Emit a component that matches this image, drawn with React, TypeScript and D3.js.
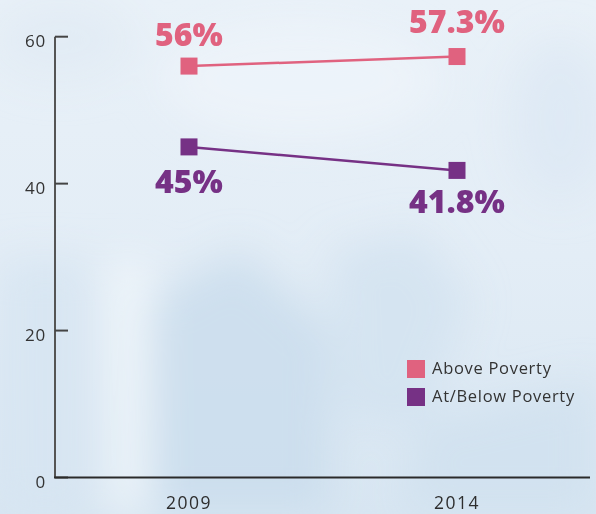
import React from "react";
import * as d3 from "d3";

const years = ["2009", "2014"];
const aboveValues = [56, 57.3];
const belowValues = [45, 41.8];
const aboveLabels = ["56%", "57.3%"];
const belowLabels = ["45%", "41.8%"];
const yTicks = [0, 20, 40, 60];
const seriesNames = ["Above Poverty", "At/Below Poverty"];

const W = 596;
const H = 514;
const PINK = "#e0627f";
const PURPLE = "#763185";
const FONT = "'Open Sans', sans-serif";

export default function App() {
  const x = d3.scalePoint<string>().domain(years).range([55, 591]).padding(0.5);
  const y = d3.scaleLinear().domain([0, 60]).range([477.5, 36.7]);

  const line = d3
    .line<number>()
    .x((_, i) => x(years[i]) as number)
    .y((d) => y(d));

  const series = [
    { name: seriesNames[0], values: aboveValues, labels: aboveLabels, color: PINK, dy: [-20, -24] },
    { name: seriesNames[1], values: belowValues, labels: belowLabels, color: PURPLE, dy: [46, 43] },
  ];

  const m = 17;

  return (
    <div style={{ position: "absolute", left: 0, top: 0, width: W, height: H, overflow: "hidden" }}>
      <svg width={W} height={H} style={{ display: "block" }}>
        <defs>
          <filter id="blur" x="-50%" y="-50%" width="200%" height="200%">
            <feGaussianBlur stdDeviation="20" />
          </filter>
          <linearGradient id="bg" x1="0" y1="0" x2="0" y2="1">
            <stop offset="0" stopColor="#e9f1f8" />
            <stop offset="0.5" stopColor="#e3edf6" />
            <stop offset="1" stopColor="#d8e6f2" />
          </linearGradient>
        </defs>
        <rect width={W} height={H} fill="url(#bg)" />
        <g filter="url(#blur)">
          <polygon points="150,300 240,250 330,330 330,514 140,514" fill="#c9dcec" opacity={0.8} />
          <polygon points="330,250 420,230 470,300 420,430 340,420" fill="#d0e1ef" opacity={0.7} />
          <rect x={110} y={260} width={40} height={254} fill="#f2f7fb" opacity={0.8} />
          <rect x={0} y={260} width={90} height={254} fill="#d6e5f1" opacity={0.8} />
          <polygon points="420,420 596,380 596,514 400,514" fill="#cfe0ee" opacity={0.7} />
          <ellipse cx={560} cy={120} rx={50} ry={80} fill="#dbe7f3" opacity={0.7} />
          <ellipse cx={60} cy={40} rx={70} ry={40} fill="#dfe9f4" opacity={0.7} />
          <ellipse cx={300} cy={80} rx={140} ry={60} fill="#eef4fa" opacity={0.8} />
        </g>

        {/* y axis */}
        <line x1={55} x2={55} y1={y(60)} y2={y(0)} stroke="#555" strokeWidth={2} />
        {yTicks.map((t) => (
          <g key={t}>
            <line x1={55} x2={68} y1={y(t)} y2={y(t)} stroke="#444" strokeWidth={2} />
            <text
              x={46}
              y={y(t) + 10.5}
              textAnchor="end"
              fontFamily={FONT}
              fontSize={17}
              fill="#333"
              letterSpacing={0.8}
            >
              {t}
            </text>
          </g>
        ))}

        {/* x axis */}
        <line x1={54} x2={590} y1={y(0)} y2={y(0)} stroke="#2a2a2a" strokeWidth={2} />
        {years.map((yr) => (
          <text
            key={yr}
            x={x(yr)}
            y={509}
            textAnchor="middle"
            fontFamily={FONT}
            fontSize={17.5}
            fill="#2e2e2e"
            letterSpacing={1.5}
          >
            {yr}
          </text>
        ))}

        {series.map((s) => (
          <g key={s.name}>
            <path d={line(s.values) || ""} fill="none" stroke={s.color} strokeWidth={2.5} />
            {s.values.map((v, i) => (
              <rect
                key={i}
                x={(x(years[i]) as number) - m / 2}
                y={y(v) - m / 2}
                width={m}
                height={m}
                fill={s.color}
              />
            ))}
            {s.values.map((v, i) => (
              <text
                key={"l" + i}
                x={x(years[i])}
                y={y(v) + s.dy[i]}
                textAnchor="middle"
                fontFamily={FONT}
                fontWeight={800}
                fontSize={32}
                fill={s.color}
              >
                {s.labels[i]}
              </text>
            ))}
          </g>
        ))}

        {/* legend */}
        {series.map((s, i) => (
          <g key={"lg" + i} transform={`translate(407, ${360 + i * 28})`}>
            <rect width={18} height={18} fill={s.color} />
            <text x={25} y={13.5} fontFamily={FONT} fontSize={16.5} fill="#333" letterSpacing={0.7}>
              {s.name}
            </text>
          </g>
        ))}
      </svg>
    </div>
  );
}
